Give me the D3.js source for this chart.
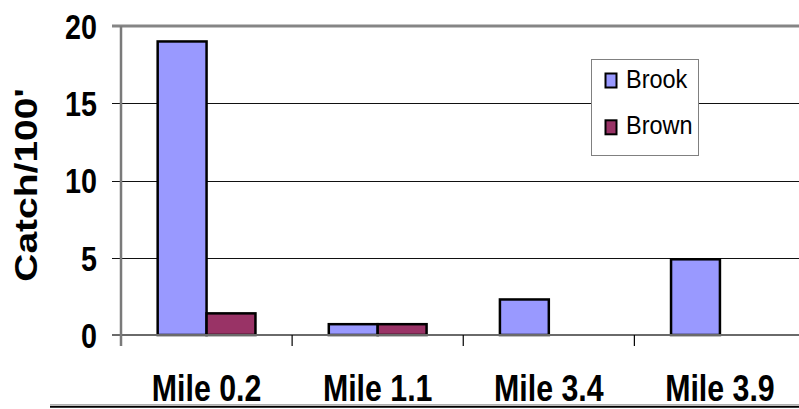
<!DOCTYPE html>
<html>
<head>
<meta charset="utf-8">
<script src="https://cdn.jsdelivr.net/npm/d3@7/dist/d3.min.js"></script>
<style>
  html, body { margin: 0; padding: 0; background: #fff; }
  svg { display: block; }
  text { font-family: "Liberation Sans", Arial, sans-serif; fill: #000; }
</style>
</head>
<body>
<svg id="chart" width="799" height="409"></svg>
<script>
// Catch per 100 ft by survey station
const categories = ["Mile 0.2", "Mile 1.1", "Mile 3.4", "Mile 3.9"];
const seriesNames = ["Brook", "Brown"];
const brookValues = [19, 0.7, 2.3, 4.9];
const brownValues = [1.4, 0.7, null, null];
const yTickValues = [0, 5, 10, 15, 20];
const yTitle = "Catch/100'";

const colors = { Brook: "#9999FF", Brown: "#993366" };
const squeeze = 0.82; // horizontal condensing of the lettering

const svg = d3.select("#chart");
const W = 799;

const plot = { left: 121, right: 805.5, top: 26, bottom: 335 };

const y = d3.scaleLinear().domain([0, 20]).range([plot.bottom, plot.top]);
const x0 = d3.scaleBand().domain(categories).range([plot.left, plot.right]).padding(0);
const bw = x0.bandwidth();
const groupW = bw * 2 / 3.5;
const groupOff = bw * 0.75 / 3.5;
const x1 = d3.scaleBand().domain(seriesNames).range([0, groupW]).padding(0);

// Horizontal gridlines (5, 10, 15) with small ticks left of the axis
const grid = d3.axisLeft(y).tickValues(yTickValues.filter(v => v > 0 && v < 20))
  .tickSize(-(W - plot.left + 10)).tickFormat("");
svg.append("g").attr("transform", `translate(${plot.left},0)`).call(grid)
  .call(g => g.select(".domain").remove())
  .call(g => g.selectAll("line").attr("stroke", "#111").attr("stroke-width", 1)
    .attr("x1", -9).attr("shape-rendering", "crispEdges"));

// Top border line at 20
svg.append("line")
  .attr("x1", plot.left - 9).attr("x2", W)
  .attr("y1", y(20)).attr("y2", y(20))
  .attr("stroke", "#858585").attr("stroke-width", 3);

// Bars
const rows = categories.map((c, i) => ({ cat: c, Brook: brookValues[i], Brown: brownValues[i] }));
const groups = svg.append("g").selectAll("g").data(rows).join("g")
  .attr("transform", d => `translate(${x0(d.cat) + groupOff},0)`);
groups.selectAll("rect")
  .data(d => seriesNames.filter(s => d[s] != null).map(s => ({ s, v: d[s] })))
  .join("rect")
  .attr("x", d => x1(d.s))
  .attr("width", x1.bandwidth())
  .attr("y", d => y(d.v))
  .attr("height", d => y(0) - y(d.v))
  .attr("fill", d => colors[d.s])
  .attr("stroke", "#000")
  .attr("stroke-width", 2.5);

// Zero line / category axis
svg.append("line")
  .attr("x1", plot.left - 9).attr("x2", W)
  .attr("y1", y(0)).attr("y2", y(0))
  .attr("stroke", "#6a6a6a").attr("stroke-width", 2.2);

// Tick marks between categories
svg.append("g").selectAll("line").data(categories.slice(1)).join("line")
  .attr("x1", d => x0(d)).attr("x2", d => x0(d))
  .attr("y1", y(0)).attr("y2", y(0) + 11)
  .attr("stroke", "#000").attr("stroke-width", 1.2);

// Value axis line
svg.append("line")
  .attr("x1", plot.left).attr("x2", plot.left)
  .attr("y1", plot.top).attr("y2", y(0) + 11)
  .attr("stroke", "#7a7a7a").attr("stroke-width", 2.5);

// Value axis labels
const yAxis = d3.axisLeft(y).tickValues(yTickValues).tickSize(0).tickFormat(d3.format("d"));
svg.append("g").attr("transform", `translate(${plot.left},0)`).call(yAxis)
  .call(g => g.select(".domain").remove())
  .call(g => g.selectAll("text")
    .attr("x", 0).attr("dy", null)
    .attr("transform", `translate(-24,12.3) scale(${squeeze},1)`)
    .attr("text-anchor", "end")
    .style("font-size", "35px").style("font-weight", "bold")
    .style("font-family", "'Liberation Sans', Arial, sans-serif").attr("fill", "#000"));

// Category labels
const xAxis = d3.axisBottom(x0).tickSize(0);
svg.append("g").attr("transform", `translate(0,${y(0)})`).call(xAxis)
  .call(g => g.select(".domain").remove())
  .call(g => g.selectAll("text")
    .attr("y", 0).attr("dy", null)
    .attr("transform", `translate(0,65.5) scale(${squeeze},1)`)
    .attr("x", 0)
    .style("font-size", "37px").style("font-weight", "bold")
    .style("font-family", "'Liberation Sans', Arial, sans-serif").attr("fill", "#000"));

// Axis title
svg.append("text")
  .attr("transform", `translate(37.3,185) scale(${squeeze},1) rotate(-90)`)
  .attr("text-anchor", "middle")
  .style("font-size", "39px").style("font-weight", "bold")
  .text(yTitle);

// Bottom rule
svg.append("line").attr("x1", 50).attr("x2", W).attr("y1", 404.5).attr("y2", 404.5)
  .attr("stroke", "#b0b0b0").attr("stroke-width", 1);
svg.append("line").attr("x1", 50).attr("x2", W).attr("y1", 406.7).attr("y2", 406.7)
  .attr("stroke", "#000").attr("stroke-width", 2);

// Legend
const legend = svg.append("g").attr("transform", "translate(591,59)");
legend.append("rect").attr("x", 0.5).attr("y", 0.5).attr("width", 107).attr("height", 96)
  .attr("fill", "#fff").attr("stroke", "#808080").attr("stroke-width", 1);
const items = legend.selectAll("g.item").data(seriesNames).join("g")
  .attr("class", "item")
  .attr("transform", (d, i) => `translate(0,${14 + i * 46.8})`);
items.append("rect").attr("x", 14.5).attr("y", 0.5).attr("width", 11).attr("height", 14)
  .attr("fill", d => colors[d]).attr("stroke", "#000").attr("stroke-width", 2);
items.append("text")
  .attr("transform", `translate(35,14.5) scale(0.94,1)`)
  .style("font-size", "25px")
  .text(d => d);
</script>
</body>
</html>
